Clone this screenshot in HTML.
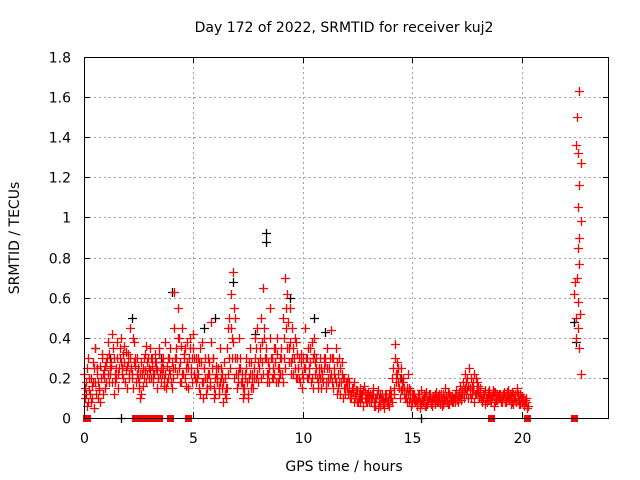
<!DOCTYPE html>
<html><head><meta charset="utf-8"><style>
body{margin:0;background:#fff}
svg{display:block;font-family:"DejaVu Sans","Liberation Sans",sans-serif}
</style></head><body>
<svg id="chart" width="640" height="480">
<text x="344" y="32" font-size="14" text-anchor="middle">Day 172 of 2022, SRMTID for receiver kuj2</text>
<text x="344" y="471" font-size="14" text-anchor="middle">GPS time / hours</text>
<text transform="translate(19,238) rotate(-90)" font-size="14" text-anchor="middle">SRMTID / TECUs</text>
<g id="grid"></g>
<g id="ticks"></g>
<g id="marks"></g>
<rect x="84.5" y="57.5" width="524" height="361" fill="none" stroke="#000" stroke-width="1"/>
</svg>
<script>
const xTicks=[0,5,10,15,20];
const yTicks=[0,0.2,0.4,0.6,0.8,1,1.2,1.4,1.6,1.8];
const yTickLabels=["0","0.2","0.4","0.6","0.8","1","1.2","1.4","1.6","1.8"];
const passAStart=0.0, passBStart=0.05, passCStart=0.025, passDStart=0.075, sampleStep=0.1;
const redPassA=[.22,.12,.30,.08,.18,.35,.25,.15,.32,.20,.28,
.38,.22,.42,.18,.30,.25,.40,.20,.33,.28,
.45,.22,.38,.30,.18,.12,.25,.32,.28,.35,
.30,.22,.28,.20,.18,.25,.38,.18,.30,.15,
.63,.35,.55,.28,.45,.20,.38,.30,.25,.42,
.18,.30,.12,.38,.25,.15,.22,.48,.30,.12,
.20,.35,.15,.28,.10,.45,.62,.73,.50,.30,
.40,.18,.15,.30,.12,.35,.22,.30,.45,.25,
.50,.65,.35,.28,.55,.30,.22,.40,.25,.35,
.50,.70,.62,.55,.45,.30,.38,.25,.32,.20,
.45,.30,.22,.38,.40,.25,.18,.30,.20,.28,
.35,.25,.44,.30,.18,.22,.12,.28,.20,.15,
.18,.12,.15,.10,.14,.08,.12,.16,.10,.13,
.10,.15,.06,.12,.08,.10,.05,.12,.09,.14,
.20,.37,.28,.15,.25,.18,.12,.22,.10,.08,
.12,.06,.10,.14,.08,.11,.07,.12,.09,.10,
.13,.08,.10,.12,.15,.09,.07,.11,.10,.12,
.08,.16,.12,.22,.14,.25,.10,.18,.20,.13,
.15,.09,.12,.10,.14,.08,.11,.13,.09,.12,
.10,.13,.08,.14,.11,.07,.12,.15,.09,.11,
.06,.08];
const redPassB=[.15,.06,.20,.10,.25,.12,.18,.08,.22,.15,.30,
.18,.28,.12,.25,.15,.35,.22,.28,.15,.20,
.25,.15,.30,.20,.10,.22,.30,.18,.25,.20,
.22,.28,.15,.32,.22,.20,.15,.30,.22,.25,
.30,.22,.40,.18,.30,.25,.15,.35,.18,.30,
.25,.15,.28,.10,.20,.30,.18,.25,.10,.22,
.15,.25,.08,.20,.15,.30,.40,.55,.22,.18,
.25,.10,.22,.18,.28,.15,.20,.35,.18,.30,
.28,.40,.22,.18,.30,.20,.35,.18,.30,.22,
.30,.45,.35,.28,.22,.40,.20,.30,.15,.25,
.30,.20,.35,.15,.28,.20,.25,.15,.30,.18,
.20,.30,.18,.25,.12,.30,.18,.10,.15,.20,
.12,.15,.08,.14,.10,.12,.06,.10,.12,.08,
.12,.08,.10,.05,.12,.07,.10,.08,.12,.10,
.15,.22,.18,.10,.14,.12,.08,.15,.06,.10,
.08,.10,.05,.09,.12,.06,.10,.08,.11,.07,
.10,.12,.06,.09,.11,.07,.10,.08,.12,.09,
.11,.09,.14,.18,.10,.15,.12,.08,.14,.10,
.10,.12,.07,.13,.09,.11,.06,.10,.12,.08,
.12,.08,.11,.09,.13,.10,.08,.12,.07,.10,
.09,.05];
const redPassC=[.10,.25,.14,.20,.28,.18,.10,.26,.30,.24,.18,
.32,.26,.35,.22,.38,.30,.25,.36,.24,.32,
.30,.40,.26,.22,.15,.28,.20,.36,.30,.24,
.26,.32,.24,.35,.25,.30,.22,.20,.35,.28,
.45,.30,.25,.36,.22,.35,.28,.40,.30,.22,
.30,.22,.35,.18,.30,.20,.28,.38,.15,.26,
.25,.18,.22,.12,.35,.50,.45,.38,.30,.22,
.30,.22,.12,.25,.20,.28,.15,.40,.22,.35,
.38,.45,.30,.22,.40,.25,.28,.32,.20,.30,
.40,.55,.48,.38,.30,.25,.32,.20,.28,.30,
.25,.35,.28,.20,.32,.30,.22,.25,.18,.30,
.25,.20,.30,.22,.35,.15,.25,.20,.12,.18,
.15,.10,.18,.12,.08,.15,.10,.13,.08,.11,
.08,.12,.10,.14,.06,.12,.08,.10,.06,.12,
.25,.30,.22,.20,.18,.15,.10,.12,.14,.12,
.10,.08,.12,.07,.10,.13,.09,.10,.06,.12,
.08,.10,.12,.07,.09,.13,.11,.08,.10,.14,
.13,.12,.18,.15,.20,.12,.16,.22,.12,.16,
.12,.10,.14,.08,.12,.10,.13,.09,.11,.10,
.08,.11,.13,.10,.07,.12,.10,.09,.12,.08,
.07,.10];
const redPassD=[.18,.08,.12,.16,.05,.22,.14,.20,.12,.26,.22,
.25,.18,.30,.20,.22,.28,.32,.18,.26,.22,
.20,.28,.18,.25,.22,.16,.24,.22,.20,.30,
.18,.25,.20,.22,.28,.16,.26,.24,.18,.20,
.25,.40,.18,.22,.32,.16,.25,.22,.35,.20,
.20,.28,.18,.25,.12,.22,.16,.30,.20,.18,
.12,.20,.18,.15,.22,.25,.30,.20,.15,.25,
.18,.15,.20,.10,.22,.18,.25,.20,.28,.20,
.22,.30,.18,.25,.20,.35,.18,.25,.22,.18,
.25,.35,.28,.22,.35,.20,.25,.18,.22,.25,
.20,.25,.18,.30,.22,.15,.20,.22,.25,.15,
.18,.22,.15,.20,.28,.18,.22,.15,.18,.12,
.10,.13,.11,.08,.12,.10,.14,.08,.10,.12,
.10,.06,.12,.08,.10,.09,.12,.07,.10,.08,
.12,.18,.25,.14,.20,.10,.15,.08,.12,.09,
.09,.12,.08,.10,.06,.09,.12,.07,.10,.09,
.11,.07,.09,.10,.08,.12,.09,.10,.08,.11,
.10,.14,.10,.12,.16,.20,.14,.12,.18,.11,
.08,.12,.10,.09,.11,.14,.08,.12,.10,.09,
.11,.09,.10,.12,.08,.10,.13,.07,.10,.09,
.08,.06];
const spikeHours=[22.4,22.45,22.5,22.5,22.55,22.6,22.65,22.6,22.65,22.7,22.7,22.65,22.6,22.62,22.55,22.58,22.6,22.62,22.7,22.5,22.68];
const spikeValues=[.62,.68,.50,1.36,1.50,1.32,1.63,1.05,1.16,.98,1.27,.90,.85,.77,.70,.58,.45,.35,.22,.40,.52];
const blackHours=[8.3,8.3,4.0,2.2,6.8,9.4,6.0,5.5,10.5,11.0,7.8,0.5,1.2,3.5,12.6,13.5,14.5,16.0,22.4,22.5,1.7,15.4];
const blackValues=[.92,.88,.63,.50,.68,.60,.50,.45,.50,.43,.42,.35,.30,.30,.12,.10,.20,.10,.48,.38,0,0];
const zeroHours=[0.1,0.15,2.35,2.6,2.9,3.2,3.45,3.95,4.75,18.6,20.25,22.4];
const zeroValues=[0,0,0,0,0,0,0,0,0,0,0,0];

const NS="http://www.w3.org/2000/svg";
const X0=84,X1=609,Y0=418,Y1=57,XMAX=24,YMAX=1.8;
function sx(h){return X0+(h/XMAX)*(X1-X0);}
function sy(v){return Y0-(v/YMAX)*(Y0-Y1);}
const grid=document.getElementById('grid'),ticks=document.getElementById('ticks'),marks=document.getElementById('marks');
function mk(tag,attrs,parent){const e=document.createElementNS(NS,tag);for(const k in attrs)e.setAttribute(k,attrs[k]);parent.appendChild(e);return e;}
yTicks.forEach((v,i)=>{
  const y=Math.round(sy(v))+0.5;
  if(v>0&&v<YMAX){const g=mk('line',{x1:X0,x2:X1,y1:y,y2:y,stroke:'#a0a0a0','stroke-dasharray':'2,3'},grid);
  
  }
  const t=mk('line',{x1:X0,x2:X0+6,y1:y,y2:y,stroke:'#000'},ticks);
  
  
  const t2=mk('line',{x1:X1-6,x2:X1,y1:y,y2:y,stroke:'#000'},ticks);
  
  
  const l=mk('text',{x:71,y:y+5,'font-size':14,'text-anchor':'end'},ticks);l.textContent=yTickLabels[i];
  
  
});
xTicks.forEach(h=>{
  const x=Math.round(sx(h))+0.5;
  if(h>0){const g=mk('line',{x1:x,x2:x,y1:Y1,y2:Y0,stroke:'#a0a0a0','stroke-dasharray':'2,3'},grid);
  
  }
  const t=mk('line',{x1:x,x2:x,y1:Y0-6,y2:Y0,stroke:'#000'},ticks);
  
  
  const t2=mk('line',{x1:x,x2:x,y1:Y1,y2:Y1+6,stroke:'#000'},ticks);
  
  
  const l=mk('text',{x:x,y:443,'font-size':14,'text-anchor':'middle'},ticks);l.textContent=String(h);
  
  
});
function plus(h,v,color,name){
  const x=Math.round(sx(h))+0.5,y=Math.round(sy(v))+0.5;
  const p=mk('path',{d:`M${x-4.5} ${y}H${x+4.5}M${x} ${y-4.5}V${y+4.5}`,stroke:color,'stroke-width':1.3,fill:'none'},marks);
  
  
}
blackHours.forEach((h,i)=>plus(h,blackValues[i],'#000','black-point'));
redPassA.forEach((v,i)=>plus(passAStart+i*sampleStep,v,'#f00','red-point'));
redPassB.forEach((v,i)=>plus(passBStart+i*sampleStep,v,'#f00','red-point'));
redPassC.forEach((v,i)=>plus(passCStart+i*sampleStep,v,'#f00','red-point'));
redPassD.forEach((v,i)=>plus(passDStart+i*sampleStep,v,'#f00','red-point'));
spikeHours.forEach((h,i)=>plus(h,spikeValues[i],'#f00','red-spike-point'));
zeroHours.forEach((h,i)=>{
  const r=mk('rect',{x:Math.round(sx(h))-3,y:Math.round(sy(zeroValues[i]))-3,width:7,height:7,fill:'#f00'},marks);
  
  
});
</script>
</body></html>
